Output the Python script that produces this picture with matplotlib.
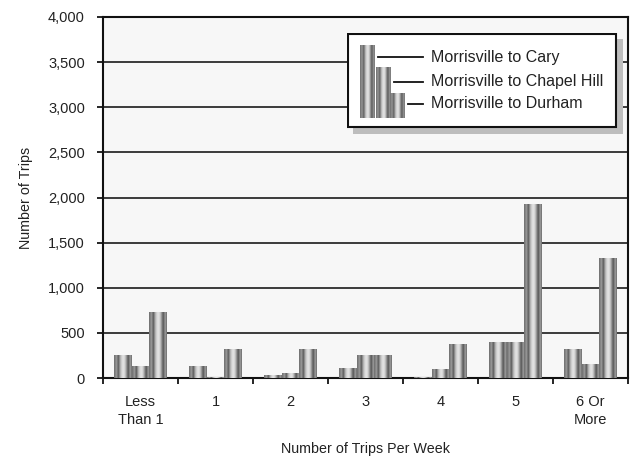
import numpy as np
import matplotlib
matplotlib.use("Agg")
import matplotlib.pyplot as plt
from matplotlib.patches import Rectangle
from matplotlib.ticker import FuncFormatter, MultipleLocator

plt.rcParams['font.family'] = ['Liberation Sans', 'DejaVu Sans']

categories = ["Less\nThan 1", "1", "2", "3", "4", "5", "6 Or\nMore"]
series_names = ["Morrisville to Cary", "Morrisville to Chapel Hill", "Morrisville to Durham"]
cary = [257, 136, 33, 113, 10, 404, 323]
chapel_hill = [136, 10, 58, 257, 95, 404, 158]
durham = [732, 323, 323, 257, 379, 1932, 1334]
y_ticks = [0, 500, 1000, 1500, 2000, 2500, 3000, 3500, 4000]

# cylinder-like shading across the width of each bar
stripe = np.array([0.46, 0.52, 0.58, 0.48, 0.40, 0.55, 0.70, 0.80, 0.86,
                   0.88, 0.84, 0.74, 0.60, 0.45, 0.38, 0.50, 0.58, 0.48])
grad = stripe[np.newaxis, :]

W, H = 634, 458
fig = plt.figure(figsize=(W / 100, H / 100), dpi=100)
ax = fig.add_axes([103 / W, 1 - 378 / H, 525 / W, 361 / H])
ax.set_facecolor('#f7f7f7')


def shaded_bar(axis, x, width, height, z=3):
    patch = axis.bar(x, height, width, color='#a0a0a0', linewidth=0, zorder=z)[0]
    im = axis.imshow(grad, extent=[x - width / 2, x + width / 2, 0, height],
                     aspect='auto', cmap='gray', vmin=0, vmax=1,
                     interpolation='bilinear', zorder=z + 0.1)
    im.set_clip_path(patch)
    return patch


bw = 0.235
offsets = [-bw, 0, bw]
for off, vals in zip(offsets, [cary, chapel_hill, durham]):
    for i, v in enumerate(vals):
        shaded_bar(ax, i + off, bw, v)

ax.set_xlim(-0.5, len(categories) - 0.5)
ax.set_ylim(0, 4000)
ax.set_yticks(y_ticks)
ax.yaxis.set_major_formatter(FuncFormatter(lambda v, p: f"{int(v):,}"))
ax.yaxis.grid(True, color='#1a1a1a', linewidth=1.2, zorder=1)
ax.set_axisbelow(True)

# category labels centered, tick marks at group boundaries
ax.set_xticks(np.arange(len(categories)))
ax.set_xticklabels(categories, fontsize=10.5, color='#222222', linespacing=1.3)
ax.tick_params(axis='x', which='major', length=0, pad=12.5)
ax.xaxis.set_minor_locator(MultipleLocator(1, offset=0.5))
ax.tick_params(axis='x', which='minor', length=4, width=1.2, direction='out')
ax.tick_params(axis='y', length=4.5, width=1.2, direction='out', pad=8.5,
               labelsize=10.5, labelcolor='#222222')

for s in ax.spines.values():
    s.set_linewidth(1.5)
    s.set_color('#111111')

ax.set_xlabel("Number of Trips Per Week", fontsize=10.3, color='#222222', labelpad=11)
ax.set_ylabel("Number of Trips", fontsize=10.3, color='#222222', labelpad=11)

# legend panel with drop shadow, laid out in pixel units
lx0, ly0, lw, lh, sh = 347, 33, 270, 95, 6
lax = fig.add_axes([lx0 / W, 1 - (ly0 + lh + sh) / H, (lw + sh) / W, (lh + sh) / H])
lax.set_xlim(0, lw + sh)
lax.set_ylim(lh + sh, 0)
lax.axis('off')
lax.add_patch(Rectangle((sh, sh), lw, lh, facecolor='#bdbdbd', edgecolor='none', zorder=1))
lax.add_patch(Rectangle((0.75, 0.75), lw - 1.5, lh - 1.5, facecolor='white',
                        edgecolor='#111111', linewidth=1.5, zorder=2))

icon_tops = [12, 34.3, 59.7]
icon_left = [13, 28.7, 43]
icon_w = 14.5
line_y = [24.3, 48.7, 71]
base = 85
for k, name in enumerate(series_names):
    x0 = icon_left[k]
    p = Rectangle((x0, icon_tops[k]), icon_w, base - icon_tops[k],
                  facecolor='#a0a0a0', edgecolor='none', zorder=3)
    lax.add_patch(p)
    im = lax.imshow(grad, extent=[x0, x0 + icon_w, base, icon_tops[k]],
                    aspect='auto', cmap='gray', vmin=0, vmax=1,
                    interpolation='bilinear', zorder=3.1)
    im.set_clip_path(p)
    lax.plot([x0 + icon_w + 3.5, 76], [line_y[k], line_y[k]], color='#111111',
             linewidth=1.3, zorder=4)
    lax.text(84, line_y[k], name, fontsize=11.5, color='#222222',
             va='center', ha='left', zorder=5)
lax.set_xlim(0, lw + sh)
lax.set_ylim(lh + sh, 0)

fig.savefig("out.png", dpi=100)
